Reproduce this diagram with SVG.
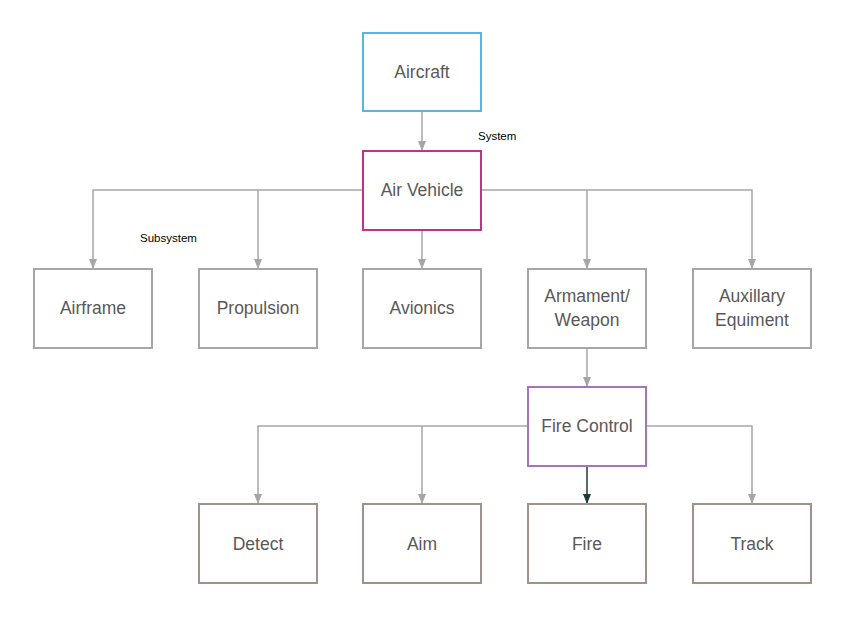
<svg xmlns="http://www.w3.org/2000/svg" width="845" height="617" viewBox="0 0 845 617">
<style>
.box{fill:#ffffff;stroke-width:2}
.t{font-family:"Liberation Sans",Arial,sans-serif;font-size:17.5px;fill:#595959;text-anchor:middle}
.lbl{font-family:"Liberation Sans",Arial,sans-serif;font-size:11.5px;fill:#000000}
.c{fill:none;stroke:#a6a6a6;stroke-width:1.5}
</style>
<defs>
<marker id="ah" markerWidth="10" markerHeight="8" refX="9" refY="4" orient="auto" markerUnits="userSpaceOnUse">
<path d="M0,0 L10,4 L0,8 Z" fill="#a6a6a6"/>
</marker>
<marker id="ahd" markerWidth="10" markerHeight="8" refX="9" refY="4" orient="auto" markerUnits="userSpaceOnUse">
<path d="M0,0 L10,4 L0,8 Z" fill="#1f3a30"/>
</marker>
</defs>
<rect width="845" height="617" fill="#ffffff"/>
<g id="connectors">
<path class="c" d="M422,111 V150" marker-end="url(#ah)"/>
<path class="c" d="M363,190 H93 V268" marker-end="url(#ah)"/>
<path class="c" d="M258,190 V268" marker-end="url(#ah)"/>
<path class="c" d="M422,230 V268" marker-end="url(#ah)"/>
<path class="c" d="M481,190 H752 V268" marker-end="url(#ah)"/>
<path class="c" d="M587,190 V268" marker-end="url(#ah)"/>
<path class="c" d="M587,348 V386" marker-end="url(#ah)"/>
<path class="c" d="M528,426 H258 V503" marker-end="url(#ah)"/>
<path class="c" d="M422,426 V503" marker-end="url(#ah)"/>
<path class="c" d="M646,426 H752 V503" marker-end="url(#ah)"/>
<path d="M587,466 V503" fill="none" stroke="#1f3a30" stroke-width="1.5" marker-end="url(#ahd)"/>
</g>
<g id="aircraft"><rect class="box" x="363" y="33" width="118" height="78" stroke="#5ab4e0"/><text class="t" x="422" y="78">Aircraft</text></g>
<g id="air-vehicle"><rect class="box" x="363" y="151" width="118" height="79" stroke="#c0318c"/><text class="t" x="422" y="196">Air Vehicle</text></g>
<g id="airframe"><rect class="box" x="34" y="269" width="118" height="79" stroke="#a6a6a6"/><text class="t" x="93" y="314">Airframe</text></g>
<g id="propulsion"><rect class="box" x="199" y="269" width="118" height="79" stroke="#a6a6a6"/><text class="t" x="258" y="314">Propulsion</text></g>
<g id="avionics"><rect class="box" x="363" y="269" width="118" height="79" stroke="#a6a6a6"/><text class="t" x="422" y="314">Avionics</text></g>
<g id="armament"><rect class="box" x="528" y="269" width="118" height="79" stroke="#a6a6a6"/><text class="t" x="587" y="302">Armament/</text><text class="t" x="587" y="326">Weapon</text></g>
<g id="auxillary"><rect class="box" x="693" y="269" width="118" height="79" stroke="#a6a6a6"/><text class="t" x="752" y="302">Auxillary</text><text class="t" x="752" y="326">Equiment</text></g>
<g id="fire-control"><rect class="box" x="528" y="387" width="118" height="79" stroke="#a574bd"/><text class="t" x="587" y="432">Fire Control</text></g>
<g id="detect"><rect class="box" x="199" y="504" width="118" height="79" stroke="#a0918a"/><text class="t" x="258" y="550">Detect</text></g>
<g id="aim"><rect class="box" x="363" y="504" width="118" height="79" stroke="#a0918a"/><text class="t" x="422" y="550">Aim</text></g>
<g id="fire"><rect class="box" x="528" y="504" width="118" height="79" stroke="#a0918a"/><text class="t" x="587" y="550">Fire</text></g>
<g id="track"><rect class="box" x="693" y="504" width="118" height="79" stroke="#a0918a"/><text class="t" x="752" y="550">Track</text></g>
<text class="lbl" x="478" y="140">System</text>
<text class="lbl" x="140" y="242">Subsystem</text>
</svg>
